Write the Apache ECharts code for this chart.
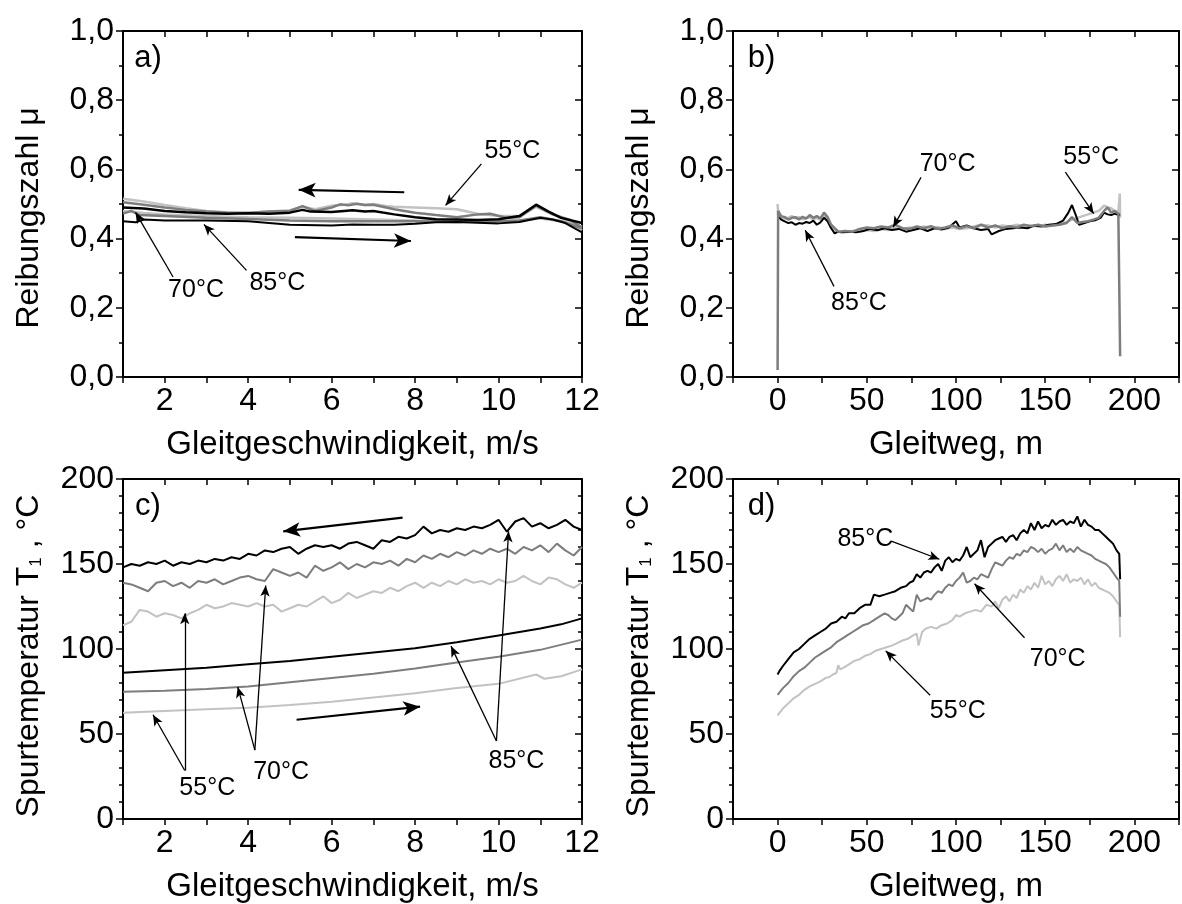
<!DOCTYPE html>
<html><head><meta charset="utf-8">
<script src="https://cdn.jsdelivr.net/npm/echarts@6.0.0/dist/echarts.min.js"></script>
<style>html,body{margin:0;padding:0;background:#fff}#c{width:1182px;height:904px}</style>
</head><body><div id="c"></div>
<script>
// ---------- data ----------
// a) friction vs sliding speed, [speed m/s, mu]
const a55Up = [[1,0.48],[1.5,0.474],[2,0.47],[3,0.465],[4,0.462],[5,0.46],[6,0.458],[7,0.455],[8,0.452],[9,0.45],[10,0.45],[10.5,0.452],[11,0.458],[11.5,0.45],[12,0.435]];
const a55Down = [[1,0.515],[1.5,0.507],[2,0.497],[2.5,0.488],[3,0.48],[3.5,0.476],[4,0.475],[4.5,0.478],[5,0.482],[5.3,0.492],[5.6,0.485],[6,0.495],[6.3,0.498],[6.5,0.502],[6.8,0.497],[7,0.5],[7.3,0.494],[7.5,0.492],[8,0.49],[8.5,0.488],[9,0.485],[9.5,0.472],[10,0.465],[10.5,0.465],[10.9,0.492],[11.3,0.47],[11.7,0.45],[12,0.425]];
const a70Up = [[1,0.472],[1.2,0.48],[1.4,0.468],[2,0.465],[3,0.46],[4,0.457],[5,0.452],[6,0.45],[7,0.45],[8,0.45],[9,0.448],[10,0.45],[10.5,0.452],[11,0.462],[11.5,0.45],[12,0.43]];
const a70Down = [[1,0.505],[1.5,0.498],[2,0.49],[2.5,0.483],[3,0.478],[3.5,0.475],[4,0.474],[4.5,0.478],[5,0.48],[5.3,0.494],[5.6,0.48],[6,0.49],[6.2,0.499],[6.4,0.496],[6.6,0.501],[6.8,0.497],[7,0.498],[7.5,0.485],[8,0.475],[8.5,0.468],[9,0.462],[9.5,0.47],[9.8,0.472],[10.2,0.46],[10.5,0.462],[10.9,0.495],[11.3,0.47],[11.7,0.455],[12,0.432]];
const a85Up = [[1,0.45],[1.3,0.447],[1.5,0.455],[2,0.452],[3,0.452],[4,0.45],[4.5,0.445],[5,0.44],[6,0.438],[6.5,0.441],[7,0.44],[7.5,0.44],[8,0.443],[8.5,0.447],[9,0.448],[9.5,0.446],[10,0.444],[10.5,0.448],[11,0.46],[11.3,0.455],[11.6,0.445],[12,0.418]];
const a85Down = [[1,0.49],[1.5,0.487],[2,0.48],[2.5,0.476],[3,0.473],[3.5,0.472],[4,0.473],[4.5,0.472],[5,0.475],[5.3,0.483],[5.5,0.478],[6,0.477],[6.3,0.48],[6.5,0.482],[6.8,0.478],[7,0.48],[7.5,0.47],[8,0.462],[8.5,0.456],[9,0.455],[9.5,0.454],[10,0.456],[10.5,0.465],[10.9,0.498],[11.2,0.478],[11.5,0.46],[12,0.445]];

// b) friction vs sliding distance, [m, mu]
const b55 = [[0,0.5],[0.3,0.47],[2,0.46],[4,0.458],[6,0.46],[8,0.465],[10,0.458],[12,0.462],[14,0.455],[16,0.46],[18,0.462],[20,0.455],[22,0.46],[24,0.455],[26,0.465],[28,0.455],[30,0.435],[32,0.425],[34,0.42],[38,0.418],[42,0.422],[46,0.42],[50,0.425],[54,0.422],[58,0.428],[62,0.425],[66,0.43],[70,0.428],[74,0.432],[78,0.428],[82,0.435],[86,0.43],[90,0.433],[94,0.428],[98,0.432],[102,0.428],[106,0.43],[110,0.435],[114,0.44],[118,0.438],[122,0.432],[126,0.438],[130,0.435],[134,0.44],[138,0.436],[142,0.438],[146,0.435],[150,0.44],[154,0.437],[158,0.442],[162,0.448],[165,0.455],[168,0.46],[171,0.465],[174,0.47],[177,0.475],[180,0.48],[183,0.495],[185,0.49],[187,0.488],[189,0.48],[191,0.475],[191.8,0.53],[192,0.46]];
const b70 = [[0,0.02],[0.3,0.48],[2,0.465],[4,0.462],[6,0.455],[8,0.46],[10,0.462],[12,0.455],[14,0.463],[16,0.458],[18,0.468],[20,0.46],[22,0.465],[24,0.458],[26,0.475],[28,0.462],[30,0.44],[32,0.43],[34,0.42],[38,0.422],[42,0.42],[46,0.428],[50,0.432],[54,0.43],[58,0.435],[62,0.432],[66,0.44],[70,0.43],[74,0.428],[78,0.435],[82,0.43],[86,0.436],[90,0.428],[94,0.432],[98,0.438],[102,0.43],[106,0.436],[110,0.43],[114,0.44],[118,0.432],[122,0.438],[126,0.43],[130,0.436],[134,0.432],[138,0.44],[142,0.436],[146,0.44],[150,0.435],[154,0.438],[158,0.44],[162,0.445],[165,0.462],[168,0.445],[171,0.448],[174,0.45],[177,0.455],[180,0.46],[183,0.48],[185,0.49],[187,0.475],[189,0.48],[191,0.472],[191.7,0.47],[192,0.06]];
const b85 = [[0,0.465],[2,0.455],[4,0.45],[6,0.445],[8,0.447],[10,0.44],[12,0.445],[14,0.443],[16,0.448],[18,0.445],[20,0.452],[22,0.44],[24,0.447],[26,0.46],[28,0.45],[30,0.43],[32,0.415],[34,0.42],[36,0.418],[40,0.42],[44,0.418],[48,0.422],[52,0.428],[56,0.424],[60,0.43],[64,0.425],[68,0.428],[72,0.42],[76,0.425],[80,0.43],[84,0.422],[88,0.43],[92,0.426],[96,0.432],[100,0.45],[102,0.432],[106,0.438],[110,0.43],[114,0.425],[118,0.428],[120,0.412],[124,0.422],[128,0.428],[132,0.43],[136,0.432],[140,0.43],[144,0.438],[148,0.435],[152,0.44],[156,0.442],[160,0.452],[163,0.475],[165,0.497],[167,0.47],[169,0.44],[172,0.445],[175,0.45],[178,0.453],[181,0.46],[183,0.475],[185,0.47],[187,0.468],[189,0.472],[191,0.468],[192,0.47]];

// c) track temperature vs sliding speed
const cX = [1.0,1.2,1.4,1.6,1.8,2.0,2.2,2.4,2.6,2.8,3.0,3.2,3.4,3.6,3.8,4.0,4.2,4.4,4.6,4.8,5.0,5.2,5.4,5.6,5.8,6.0,6.2,6.4,6.6,6.8,7.0,7.2,7.4,7.6,7.8,8.0,8.2,8.4,8.6,8.8,9.0,9.2,9.4,9.6,9.8,10.0,10.2,10.4,10.6,10.8,11.0,11.2,11.4,11.6,11.8,12.0];
const c85Down = [148,150,149,151,150,152,149,151,150,152,151,153,152,154,153,156,155,158,157,159,160,156,159,161,160,161,159,162,163,161,159,164,163,166,165,167,172,168,170,169,171,170,172,171,173,176,169,175,177,172,174,171,173,176,172,170];
const c70Down = [139,138,136,134,139,140,137,139,136,140,139,141,138,140,142,143,141,140,147,145,143,145,142,149,146,148,151,147,150,148,151,150,152,149,153,151,155,153,156,154,157,155,158,156,159,157,159,156,160,158,161,157,162,158,155,160];
const c55Down = [114,116,123,122,119,121,120,118,121,123,126,124,125,127,126,125,127,125,126,122,124,126,125,128,131,127,129,133,130,132,134,133,136,134,137,139,136,139,137,140,138,141,139,140,138,141,139,140,143,140,138,142,141,138,136,139];
const c85Up = [[1,86],[2,87.5],[3,89],[4,91],[5,93],[6,95.5],[7,98],[8,100.5],[9,104],[10,108],[11,112],[11.5,114.5],[12,118]];
const c70Up = [[1,74.8],[2,75.5],[3,76.5],[4,78],[5,80.5],[6,83],[7,85.5],[8,88.5],[9,92],[10,95.5],[11,99.5],[12,105.5]];
const c55Up = [[1,62.5],[2,63.5],[3,64.5],[4,65.5],[5,67],[6,69],[7,71.5],[8,74],[9,77],[10,79.5],[10.9,85],[11.1,82.5],[11.5,84],[12,88]];

// d) track temperature vs sliding distance
const d85 = [[0,85],[1,87],[3,90],[6,94],[9,98],[12,100],[15,103],[18,106],[21,108],[24,110],[27,112],[30,115],[33,116],[36,119],[38,118],[40,121],[43,121],[46,124],[49,126],[50,127],[52,126],[54,132],[57,131],[60,132],[63,133],[66,134],[69,136],[72,137],[74,139],[76,140],[78,144],[80,142],[82,145],[84,146],[86,145],[88,148],[90,150],[92,146],[94,152],[96,154],[98,151],[100,153],[102,152],[104,155],[106,160],[108,154],[110,156],[112,158],[114,164],[116,154],[118,160],[120,162],[122,164],[124,165],[126,166],[128,163],[130,166],[132,167],[134,164],[136,168],[138,170],[140,168],[142,174],[144,170],[146,175],[148,171],[150,173],[152,172],[154,176],[156,173],[158,175],[160,176],[162,173],[164,175],[166,174],[168,178],[170,172],[172,176],[174,173],[176,172],[178,170],[180,170],[182,168],[184,166],[186,164],[188,162],[190,158],[191.5,156],[192,141]];
const d70 = [[0,73],[1,74],[3,77],[6,80],[9,84],[12,87],[15,89],[18,92],[21,95],[24,97],[27,99],[30,101],[33,104],[36,106],[39,108],[42,110],[45,112],[48,114],[51,115],[54,117],[57,119],[60,121],[62,120],[64,118],[66,117],[68,119],[70,121],[72,126],[74,124],[76,122],[78,132],[80,128],[82,129],[84,130],[86,129],[88,132],[90,134],[92,133],[94,136],[96,138],[98,137],[100,140],[102,142],[104,145],[106,139],[108,140],[110,142],[112,141],[114,144],[116,143],[118,142],[120,147],[122,151],[124,150],[126,149],[128,152],[130,154],[132,153],[134,156],[136,155],[138,158],[140,157],[142,160],[144,159],[146,157],[148,159],[150,156],[152,158],[154,159],[156,162],[158,158],[160,161],[162,157],[164,159],[166,157],[168,160],[170,158],[172,157],[174,156],[176,155],[178,153],[180,152],[182,151],[184,150],[186,148],[188,145],[190,142],[191.5,140],[192,119]];
const d55 = [[0,61],[1,62],[3,65],[6,68],[9,71],[12,73],[15,76],[18,78],[21,79.5],[24,81],[27,83],[29,83.5],[31,85],[33,86],[34,90.5],[35,88],[37,89],[40,91],[43,93],[46,94],[49,96],[52,97],[55,99],[58,100],[61,101],[64,102],[67,103.5],[70,105],[73,106],[76,108],[78,109],[79,102],[81,110],[83,112],[86,113],[89,112],[92,114],[95,115],[98,117],[100,120],[102,119],[105,121],[108,122],[111,123],[114,122],[117,126],[120,125],[122,128],[124,124],[126,129],[128,131],[130,128],[132,132],[134,130],[136,135],[138,133],[140,137],[142,135],[144,139],[146,136],[148,143],[150,138],[152,140],[154,137],[156,141],[158,143],[160,140],[162,144],[164,139],[166,141],[168,140],[170,142],[172,138],[174,141],[176,137],[178,139],[180,136],[182,135],[184,134],[186,133],[188,131],[190,128],[191.5,126],[192,107]];

// tick labels and titles
const speedLabels = [2, 4, 6, 8, 10, 12];
const distLabels = [0, 50, 100, 150, 200];

// annotations in data coordinates: [x1,y1,x2,y2] (arrow from 1 to 2), texts [x,y,text]
const annA = { texts: [[10.33,0.654,'55°C'],[2.75,0.251,'70°C'],[4.70,0.271,'85°C'],[1.6,0.922,'a)']],
  arrows: [[9.59,0.616,8.73,0.496],[2.20,0.289,1.30,0.476],[3.96,0.308,2.94,0.441]],
  big: [[7.74,0.534,5.21,0.541],[5.12,0.404,7.90,0.393]] };
const annB = { texts: [[95.3,0.616,'70°C'],[175.8,0.635,'55°C'],[45.6,0.215,'85°C'],[-9,0.922,'b)']],
  arrows: [[80.4,0.577,64.8,0.433],[161.3,0.592,177.2,0.472],[31.6,0.262,15.5,0.424]], big: [] };
const annC = { texts: [[3.02,17.9,'55°C'],[4.79,27.6,'70°C'],[10.43,34.3,'85°C'],[1.6,183.9,'c)']],
  arrows: [[2.48,28.5,1.72,61.3],[2.48,28.5,2.48,121],[4.16,40.5,3.75,77.7],[4.16,40.5,4.42,137.4],[9.95,45.9,8.86,101.7],[9.95,45.9,10.24,169.2]],
  big: [[7.70,177.3,4.84,169.2],[5.16,58.4,8.12,66.1]] };
const annD = { texts: [[49.2,164.4,'85°C'],[157,94,'70°C'],[101,63.2,'55°C'],[-9,183.9,'d)']],
  arrows: [[63.7,163.4,90.7,152.8],[138.4,106.6,110.4,138.4],[85.5,72.8,60.6,98.9]], big: [] };

// ---------- chart ----------
const FONT = '"Liberation Sans", Arial, sans-serif';
const BLACK = '#000000', MID = '#7d7d7d', LIGHT = '#c2c2c2';

const grids = [
  {left: 123, top: 31, width: 459, height: 346},
  {left: 733, top: 31, width: 455, height: 346},
  {left: 123, top: 479, width: 459, height: 347},
  {left: 733, top: 479, width: 455, height: 347}
];

const commaFmt = v => v.toFixed(1).replace('.', ',');
function xCfg(gi, kind, pos) {
  const speed = kind === 'speed';
  const base = {
    gridIndex: gi, type: 'value', position: pos,
    min: speed ? 1 : -25, max: speed ? 12 : 225, interval: speed ? 1 : 25,
    axisLine: {show: true, onZero: false, lineStyle: {color: '#000', width: 2}},
    axisTick: {show: true, inside: pos === 'top', length: 6, lineStyle: {color: '#000', width: 1.5}},
    splitLine: {show: false},
    axisLabel: {show: false}
  };
  if (pos === 'bottom') {
    const labs = speed ? speedLabels : distLabels;
    base.axisLabel = {show: true, color: '#000', fontSize: 32, fontFamily: FONT, margin: 8,
      formatter: v => (labs.indexOf(v) >= 0 ? String(v) : '')};
    base.name = speed ? 'Gleitgeschwindigkeit, m/s' : 'Gleitweg, m';
    base.nameLocation = 'middle';
    base.nameGap = 51;
    base.nameTextStyle = {color: '#000', fontSize: 33, fontFamily: FONT};
  }
  return base;
}
function yCfg(gi, kind, pos) {
  const mu = kind === 'mu';
  const base = {
    gridIndex: gi, type: 'value', position: pos,
    min: 0, max: mu ? 1 : 200, interval: mu ? 0.2 : 50,
    axisLine: {show: true, onZero: false, lineStyle: {color: '#000', width: 2}},
    axisTick: {show: true, inside: pos === 'right', length: 7, lineStyle: {color: '#000', width: 1.5}},
    minorTick: {show: true, splitNumber: mu ? 2 : 5, length: 4, lineStyle: {color: '#000', width: 1.5}},
    splitLine: {show: false}, minorSplitLine: {show: false},
    axisLabel: {show: false}
  };
  if (pos === 'left') {
    base.axisLabel = {show: true, color: '#000', fontSize: 32, fontFamily: FONT, margin: 9,
      formatter: v => (mu ? commaFmt(v) : String(v))};
    base.name = mu ? 'Reibungszahl μ' : 'Spurtemperatur T{sub|1} , °C';
    base.nameLocation = 'middle';
    base.nameGap = 78;
    base.nameTextStyle = {color: '#000', fontSize: 32, fontFamily: FONT,
      padding: mu ? [0, 28, 0, 0] : [0, 14, 0, 0],
      rich: {sub: {fontSize: 17, fontFamily: FONT, color: '#000', verticalAlign: 'bottom'}}};
  }
  return base;
}

const kinds = [['speed','mu'],['dist','mu'],['speed','temp'],['dist','temp']];
const xAxes = [], yAxes = [];
kinds.forEach((k, gi) => xAxes.push(xCfg(gi, k[0], 'bottom')));
kinds.forEach((k, gi) => xAxes.push(xCfg(gi, k[0], 'top')));
kinds.forEach((k, gi) => yAxes.push(yCfg(gi, k[1], 'left')));
kinds.forEach((k, gi) => yAxes.push(yCfg(gi, k[1], 'right')));

function line(name, data, gi, color, width) {
  return {name, type: 'line', xAxisIndex: gi, yAxisIndex: gi, data, showSymbol: false, symbol: 'none',
    lineStyle: {color, width}, itemStyle: {color}, silent: true, animation: false, z: 2};
}
function zipXY(xs, ys) { return xs.map((x, i) => [x, ys[i]]); }

function annotation(gi, ann) {
  const ml = [];
  ann.arrows.forEach(a => ml.push([{coord: [a[0], a[1]], symbol: 'none', symbolSize: 0},
    {coord: [a[2], a[3]], symbol: 'arrow', symbolSize: [7, 11], lineStyle: {width: 1.3}}]));
  ann.big.forEach(a => ml.push([{coord: [a[0], a[1]], symbol: 'none', symbolSize: 0},
    {coord: [a[2], a[3]], symbol: 'arrow', symbolSize: [11, 17]}]));
  return {
    type: 'line', xAxisIndex: gi, yAxisIndex: gi, data: [], silent: true, animation: false, z: 5,
    markLine: {silent: true, animation: false, symbol: ['none', 'arrow'],
      label: {show: false}, emphasis: {disabled: true},
      lineStyle: {color: '#000', width: 2.2, type: 'solid'}, data: ml},
    markPoint: {silent: true, animation: false, symbol: 'circle', symbolSize: 1,
      itemStyle: {color: 'rgba(0,0,0,0)'}, emphasis: {disabled: true},
      label: {show: true, position: 'inside', color: '#000', fontFamily: FONT, fontSize: 25, formatter: '{b}'},
      data: ann.texts.map(t => ({name: t[2], coord: [t[0], t[1]],
        label: t[2].length === 2 ? {fontSize: 31} : {}}))}
  };
}

const series = [
  line('55°C ←', a55Down, 0, LIGHT, 2.5), line('55°C →', a55Up, 0, LIGHT, 2.5),
  line('70°C ←', a70Down, 0, MID, 2.5), line('70°C →', a70Up, 0, MID, 2.5),
  line('85°C ←', a85Down, 0, BLACK, 2.5), line('85°C →', a85Up, 0, BLACK, 2),
  line('55°C', b55, 1, LIGHT, 2.5), line('85°C', b85, 1, BLACK, 2), line('70°C', b70, 1, MID, 2.5),
  line('55°C ←', zipXY(cX, c55Down), 2, LIGHT, 2), line('55°C →', c55Up, 2, LIGHT, 2),
  line('70°C ←', zipXY(cX, c70Down), 2, MID, 2), line('70°C →', c70Up, 2, MID, 2),
  line('85°C ←', zipXY(cX, c85Down), 2, BLACK, 2), line('85°C →', c85Up, 2, BLACK, 2),
  line('55°C', d55, 3, LIGHT, 2), line('70°C', d70, 3, MID, 2), line('85°C', d85, 3, BLACK, 2),
  annotation(0, annA), annotation(1, annB), annotation(2, annC), annotation(3, annD)
];

const chart = echarts.init(document.getElementById('c'), null, {renderer: 'canvas'});
chart.setOption({
  backgroundColor: '#ffffff',
  animation: false,
  grid: grids,
  xAxis: xAxes,
  yAxis: yAxes,
  series
});
</script></body></html>
